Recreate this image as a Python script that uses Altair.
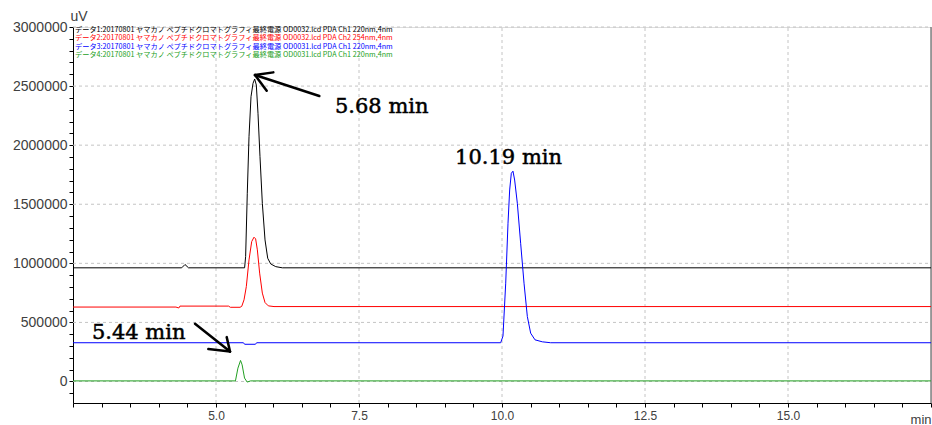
import altair as alt
import pandas as pd

# ---------------- data ----------------
t_black = [2.5, 4.40, 4.458, 4.52, 5.50, 5.518, 5.547, 5.577, 5.612, 5.647, 5.676,
           5.705, 5.734, 5.769, 5.810, 5.857, 5.904, 5.956, 6.044, 6.160, 17.5]
v_black = [962000, 962000, 990000, 962000, 962000, 1057000, 1593000, 2072000, 2410000,
           2523000, 2560000, 2509000, 2270000, 1903000, 1508000, 1198000, 1043000,
           995000, 972000, 962000, 962000]

t_red = [2.5, 4.30, 4.35, 4.37, 5.22, 5.25, 5.42, 5.45, 5.49, 5.53, 5.577, 5.624,
         5.664, 5.693, 5.723, 5.763, 5.810, 5.857, 5.915, 6.014, 17.5]
v_red = [630000, 630000, 622000, 638000, 638000, 628000, 628000, 636000, 691000, 803000,
         1029000, 1184000, 1221000, 1207000, 1114000, 917000, 748000, 668000, 640000,
         634000, 634000]

t_blue = [2.5, 5.48, 5.50, 5.69, 5.71, 9.977, 10.017, 10.065, 10.105, 10.134, 10.163,
          10.192, 10.221, 10.268, 10.326, 10.385, 10.443, 10.501, 10.577, 10.705,
          10.851, 17.5]
v_blue = [328000, 328000, 315000, 315000, 328000, 328000, 384500, 832000, 1339000,
          1621000, 1762000, 1780000, 1705000, 1508000, 1170000, 832000, 550000, 409000,
          352600, 335700, 328000, 328000]

t_green = [2.5, 5.34, 5.383, 5.429, 5.457, 5.499, 5.545, 5.604, 17.5]
v_green = [5000, 5000, 113000, 178000, 141000, 29000, -5000, 5000, 5000]

series_names = ["データ1", "データ2", "データ3", "データ4"]
series_colors = ["#000000", "#ff0000", "#0000ff", "#22a022"]
series_t = [t_black, t_red, t_blue, t_green]
series_v = [v_black, v_red, v_blue, v_green]

legend_labels = [
    "データ1:20170801 ヤマカノ ペプチドクロマトグラフィ最終電源 OD0032.lcd PDA Ch1 220nm,4nm",
    "データ2:20170801 ヤマカノ ペプチドクロマトグラフィ最終電源 OD0032.lcd PDA Ch2 254nm,4nm",
    "データ3:20170801 ヤマカノ ペプチドクロマトグラフィ最終電源 OD0031.lcd PDA Ch1 220nm,4nm",
    "データ4:20170801 ヤマカノ ペプチドクロマトグラフィ最終電源 OD0031.lcd PDA Ch1 220nm,4nm",
]

# annotations (data coordinates)
ann_text = ["5.68 min", "10.19 min", "5.44 min"]
ann_x = [7.08, 9.18, 2.83]
ann_y = [2270000, 1841000, 358500]

# arrow segments: shaft and two barbs for each arrow
arr_x = [6.806, 5.682, 5.682, 4.633, 5.245, 5.245]
arr_y = [2416000, 2593500, 2593500, 487900, 253700, 253700]
arr_x2 = [5.682, 6.002, 5.886, 5.245, 4.866, 5.187]
arr_y2 = [2593500, 2616000, 2460700, 253700, 274000, 375400]

x_min, x_max = 2.5, 17.5
y_min, y_max = -182000, 3000000
grid_x = [5.0, 7.5, 10.0, 12.5, 15.0]
grid_y = [0, 500000, 1000000, 1500000, 2000000, 2500000, 3000000]

x_tick_values = [2.5 + 0.5 * i for i in range(31)]
y_tick_values = [-100000 + 100000 * i for i in range(32)]

# ---------------- build tables ----------------
rows = []
for name, ts, vs in zip(series_names, series_t, series_v):
    for i, (t, v) in enumerate(zip(ts, vs)):
        rows.append({"series": name, "t": t, "v": v, "ord": i})
df = pd.DataFrame(rows)

grid_rows = [{"x": g, "x2": g, "y": y_min, "y2": y_max} for g in grid_x] + \
            [{"x": x_min, "x2": x_max, "y": g, "y2": g} for g in grid_y]
grid_df = pd.DataFrame(grid_rows)
border_df = pd.DataFrame([{"x": x_max, "x2": x_max, "y": y_min, "y2": y_max}])

W, H = 858, 376
x_scale = alt.Scale(domain=[x_min, x_max], nice=False, zero=False)
y_scale = alt.Scale(domain=[y_min, y_max], nice=False, zero=False)

label_font = "Liberation Sans"

x_axis = alt.Axis(
    values=x_tick_values,
    labelExpr="(datum.value==5||datum.value==7.5||datum.value==10||datum.value==12.5||datum.value==15) ? format(datum.value, '.1f') : ''",
    grid=False, tickSize=4, tickColor="#000", domainColor="#000",
    labelFont=label_font, labelFontSize=12, labelColor="#404040",
    labelPadding=3, labelFlush=False, labelOverlap=False, labelBound=False,
    title="min", titleFont=label_font, titleFontSize=13, titleFontWeight="normal",
    titleColor="#404040", titleAnchor="end", titleAlign="right",
    titleX=W, titleY=20, titleBaseline="alphabetic",
)
y_axis = alt.Axis(
    values=y_tick_values,
    labelExpr="datum.value % 500000 === 0 ? format(datum.value, 'd') : ''",
    grid=False, tickSize=4, tickColor="#000", domainColor="#000",
    labelFont=label_font, labelFontSize=14, labelColor="#404040",
    labelPadding=2, labelFlush=False, labelOverlap=False, labelBound=False,
    title="uV", titleAngle=0, titleFont=label_font, titleFontSize=14,
    titleFontWeight="normal", titleColor="#404040",
    titleX=-3, titleY=-4, titleAlign="left", titleBaseline="bottom",
)


def X(field):
    return alt.X(field, scale=x_scale, axis=x_axis)


def Y(field):
    return alt.Y(field, scale=y_scale, axis=y_axis)


grid = alt.Chart(grid_df).mark_rule(
    color="#c4c4c4", strokeDash=[3, 3], strokeWidth=1
).encode(x=X("x:Q"), x2="x2:Q", y=Y("y:Q"), y2="y2:Q")

border = alt.Chart(border_df).mark_rule(
    color="#666666", strokeWidth=1.2
).encode(x=X("x:Q"), x2="x2:Q", y=Y("y:Q"), y2="y2:Q")

lines = alt.Chart(df).mark_line(strokeWidth=1, interpolate="linear").encode(
    x=X("t:Q"),
    y=Y("v:Q"),
    color=alt.Color("series:N", scale=alt.Scale(domain=series_names, range=series_colors), legend=None),
    detail="series:N",
    order="ord:Q",
)

ann = alt.Chart(pd.DataFrame({"txt": ann_text, "x": ann_x, "y": ann_y})).mark_text(
    font="DejaVu Serif", fontSize=21, align="left", baseline="alphabetic",
    color="#000", stroke="#000", strokeWidth=0.5
).encode(x=X("x:Q"), y=Y("y:Q"), text="txt:N")

arrows = alt.Chart(pd.DataFrame({"x": arr_x, "y": arr_y, "x2": arr_x2, "y2": arr_y2})).mark_rule(
    color="#000", strokeWidth=2.5, strokeCap="round"
).encode(x=X("x:Q"), y=Y("y:Q"), x2="x2:Q", y2="y2:Q")

legend_layers = []
for i, (lab, col) in enumerate(zip(legend_labels, series_colors)):
    legend_layers.append(
        alt.Chart(pd.DataFrame({"lab": [lab]})).mark_text(
            font="Noto Sans CJK JP", fontSize=7.2, align="left", baseline="middle", color=col
        ).encode(text="lab:N", x=alt.value(2), y=alt.value(3 + 8.4 * i))
    )

chart = alt.layer(grid, border, lines, arrows, ann, *legend_layers).properties(
    width=W, height=H,
    autosize=alt.AutoSizeParams(type="none"),
    padding={"left": 73, "top": 27, "right": 1, "bottom": 22},
).configure_view(stroke=None).configure(background="white")

chart.save("out.html", embed_options={"renderer": "svg", "actions": False})
